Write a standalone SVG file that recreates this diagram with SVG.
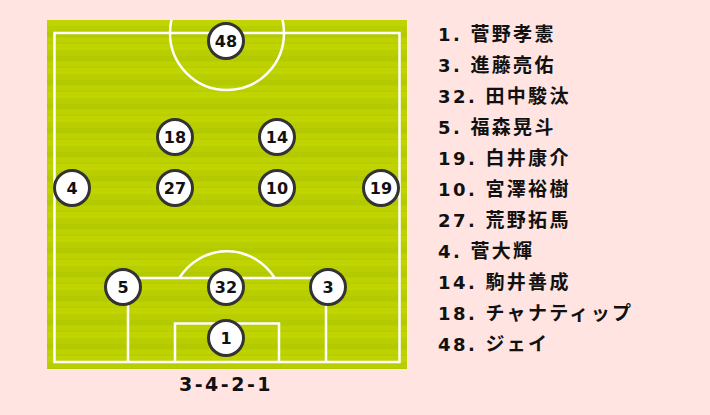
<svg xmlns="http://www.w3.org/2000/svg" width="710" height="415" viewBox="0 0 710 415">
<defs>
<pattern id="grass" x="0" y="20" width="20" height="24" patternUnits="userSpaceOnUse">
<rect width="20" height="24" fill="#b9ce00"/>
<rect y="0" width="20" height="6" fill="#c0d402"/>
<rect y="12" width="20" height="5" fill="#b4ca00"/>
<rect y="18" width="20" height="4" fill="#bed200"/>
</pattern>
<clipPath id="pc"><rect x="47" y="20" width="360" height="349"/></clipPath>
<style>
.ln{fill:none;stroke:#ffffff;stroke-width:2.5}
.pl circle{fill:#ffffff;stroke:#333333;stroke-width:3}
.pl text{font-family:"DejaVu Sans",Verdana,sans-serif;font-weight:bold;font-size:16px;fill:#111;text-anchor:middle}
.lst text{font-family:"DejaVu Sans",Verdana,sans-serif;font-weight:bold;font-size:18px;fill:#111;letter-spacing:2.5px}
.lst tspan{font-family:"Noto Sans CJK JP","Noto Sans",sans-serif;font-size:19px;letter-spacing:2.3px}
</style>
</defs>
<rect width="710" height="415" fill="#ffe4e1"/>
<g id="pitch">
<rect x="47" y="20" width="360" height="349" fill="url(#grass)"/>
<g clip-path="url(#pc)">
<rect class="ln" x="54.5" y="33" width="345" height="329"/>
<circle class="ln" cx="227" cy="33" r="57"/>
<path class="ln" d="M179.3,278 A56,56 0 0 1 274.7,278"/>
<path class="ln" d="M128,362 V278 H326 V362"/>
<path class="ln" d="M175,362 V323.5 H279 V362"/>
</g>
</g>
<g id="players" class="pl">
<g id="p48"><circle cx="226" cy="41" r="17.5"/><text x="226" y="47">48</text></g>
<g id="p18"><circle cx="175" cy="137" r="17.5"/><text x="175" y="143">18</text></g>
<g id="p14"><circle cx="277" cy="137" r="17.5"/><text x="277" y="143">14</text></g>
<g id="p4"><circle cx="72" cy="188" r="17.5"/><text x="72" y="194">4</text></g>
<g id="p27"><circle cx="175" cy="188" r="17.5"/><text x="175" y="194">27</text></g>
<g id="p10"><circle cx="277" cy="188" r="17.5"/><text x="277" y="194">10</text></g>
<g id="p19"><circle cx="381" cy="188" r="17.5"/><text x="381" y="194">19</text></g>
<g id="p5"><circle cx="123" cy="287" r="17.5"/><text x="123" y="293">5</text></g>
<g id="p32"><circle cx="226" cy="287" r="17.5"/><text x="226" y="293">32</text></g>
<g id="p3"><circle cx="328" cy="287" r="17.5"/><text x="328" y="293">3</text></g>
<g id="p1"><circle cx="226" cy="338" r="17.5"/><text x="226" y="344">1</text></g>
</g>
<text id="formation" x="226" y="391" text-anchor="middle" style="font-family:'DejaVu Sans',Verdana,sans-serif;font-weight:bold;font-size:19px;fill:#111;letter-spacing:2.5px">3-4-2-1</text>
<g id="roster" class="lst">
<text x="438" y="41">1.<tspan x="470.5">菅野孝憲</tspan></text>
<text x="438" y="72">3.<tspan x="470.5">進藤亮佑</tspan></text>
<text x="438" y="103">32.<tspan x="485.5">田中駿汰</tspan></text>
<text x="438" y="134">5.<tspan x="470.5">福森晃斗</tspan></text>
<text x="438" y="165">19.<tspan x="485.5">白井康介</tspan></text>
<text x="438" y="196">10.<tspan x="485.5">宮澤裕樹</tspan></text>
<text x="438" y="227">27.<tspan x="485.5">荒野拓馬</tspan></text>
<text x="438" y="258">4.<tspan x="470.5">菅大輝</tspan></text>
<text x="438" y="289">14.<tspan x="485.5">駒井善成</tspan></text>
<text x="438" y="320">18.<tspan x="485.5">チャナティップ</tspan></text>
<text x="438" y="351">48.<tspan x="485.5">ジェイ</tspan></text>
</g>
</svg>
